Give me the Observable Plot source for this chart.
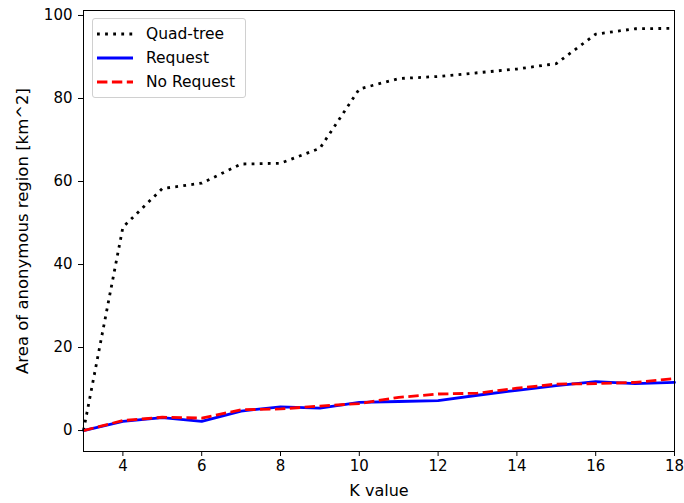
<!DOCTYPE html>
<html><head><meta charset="utf-8">
<script src="https://cdn.jsdelivr.net/npm/d3@7"></script>
<script src="https://cdn.jsdelivr.net/npm/@observablehq/plot@0.6"></script>
<style>
body{margin:0;background:#fff;font-family:"DejaVu Sans",sans-serif;}
#wrap{position:relative;width:684px;height:503px;}
#legend{position:absolute;left:92px;top:18px;width:152px;height:78px;border:1px solid #d0d0d0;border-radius:3px;background:rgba(255,255,255,0.8);font-family:"DejaVu Sans",sans-serif;font-size:15.5px;color:#000;}
#legend .row{position:absolute;left:4px;height:20px;display:flex;align-items:center;}
#legend .row span{margin-left:13px;white-space:nowrap;}
</style></head><body><div id="wrap"></div>
<script>
const kValues = [3,4,5,6,7,8,9,10,11,12,13,14,15,16,17,18];
const quadTree = [0,49,58.3,59.6,64.2,64.4,68,82.3,84.8,85.3,86.2,87.1,88.4,95.5,96.8,96.9];
const request = [0,2.2,3.1,2.2,4.7,5.7,5.4,6.8,7.0,7.2,8.5,9.7,10.8,11.8,11.3,11.6];
const noRequest = [0,2.4,3.2,3.0,5.0,5.2,5.9,6.5,8.0,8.8,9.0,10.2,11.2,11.3,11.6,12.5];
const xTicks = [4,6,8,10,12,14,16,18];
const yTicks = [0,20,40,60,80,100];
const seriesNames = ["Quad-tree","Request","No Request"];
const seriesValues = [quadTree, request, noRequest];
const styles = {
  "Quad-tree": {stroke:"#000000", strokeWidth:2.8, strokeDasharray:"2.8,5.3", strokeLinecap:"butt"},
  "Request": {stroke:"#0000ff", strokeWidth:2.8},
  "No Request": {stroke:"#ff0000", strokeWidth:2.8, strokeDasharray:"10.4,4.5", strokeLinecap:"butt"}
};
const rows = seriesNames.flatMap((s,i)=>kValues.map((k,j)=>({series:s,k,v:seriesValues[i][j]})));

const chart = Plot.plot({
  width:684, height:503,
  marginLeft:83, marginRight:10, marginTop:10, marginBottom:52,
  style:{fontFamily:"DejaVu Sans", fontSize:"15px", color:"#000", background:"#fff"},
  x:{domain:[3,18]},
  y:{domain:[-5.05,101.2]},
  marks:[
    ...seriesNames.map(s=>Plot.line(rows.filter(d=>d.series===s),{x:"k",y:"v",...styles[s]})),
    Plot.frame({stroke:"#000", strokeWidth:1}),
    Plot.axisX({ticks:xTicks, tickSize:5, tickPadding:4, fontSize:15, label:null}),
    Plot.axisX({ticks:[], tickSize:0, fontSize:16, label:"K value", labelAnchor:"center", labelArrow:"none", labelOffset:44}),
    Plot.axisY({ticks:yTicks, tickSize:5, tickPadding:6, fontSize:15, label:null}),
    Plot.axisY({ticks:[], tickSize:0, fontSize:16.5, label:"Area of anonymous region [km^2]", labelAnchor:"center", labelArrow:"none", labelOffset:67})
  ]
});
const wrap = document.getElementById("wrap");
wrap.appendChild(chart);

const legend = document.createElement("div");
legend.id = "legend";
seriesNames.forEach((s,i)=>{
  const st = styles[s];
  const row = document.createElement("div");
  row.className = "row";
  row.style.top = (5 + i*24) + "px";
  row.innerHTML = `<svg width="36" height="10"><line x1="0" x2="36" y1="5" y2="5" stroke="${st.stroke}" stroke-width="${st.strokeWidth}" ${st.strokeDasharray?`stroke-dasharray="${st.strokeDasharray}"`:""}/></svg><span>${s}</span>`;
  legend.appendChild(row);
});
wrap.appendChild(legend);
</script></body></html>
